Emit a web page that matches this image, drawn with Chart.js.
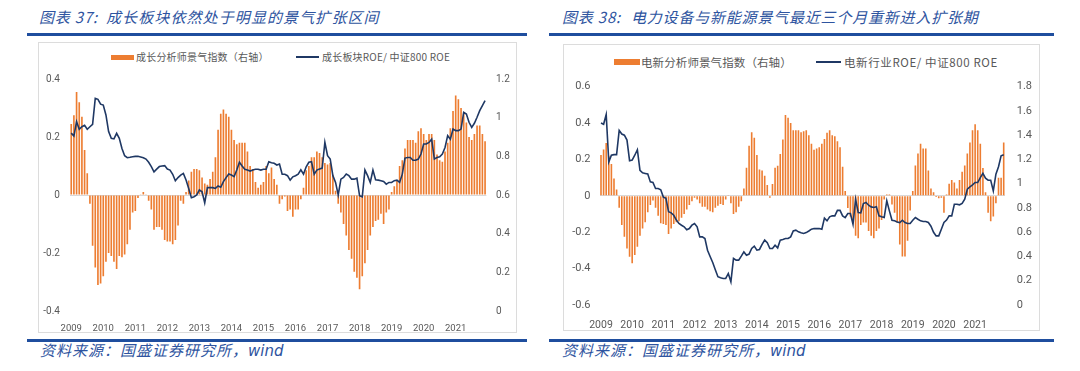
<!DOCTYPE html>
<html><head><meta charset="utf-8">
<script src="https://cdn.jsdelivr.net/npm/chart.js@4.4.1/dist/chart.umd.min.js"></script>
<style>
html,body{margin:0;padding:0;background:#fff}
body{width:1080px;height:371px;position:relative;overflow:hidden;font-family:"Noto Sans CJK SC",sans-serif}
.title{position:absolute;top:7px;font-size:15px;font-style:italic;color:#2E54A0;letter-spacing:0.8px;white-space:nowrap;line-height:20px}
.rule{position:absolute;height:3px;background:#1F4E9E}
.frame{position:absolute;border:1px solid #dcdcdc;box-sizing:border-box}
.src{position:absolute;top:340px;font-size:15px;font-style:italic;color:#2E54A0;letter-spacing:1px;white-space:nowrap;line-height:20px}
.src b{font-family:"DejaVu Sans",sans-serif;font-weight:normal;letter-spacing:0;font-size:15px}
.lg{position:absolute;white-space:nowrap;color:#595959}
.box{position:absolute;background:#ED7D31}
.ln{position:absolute;background:#1F3864;height:2px}
canvas{position:absolute}
</style></head>
<body>
<div class="title" style="left:39px">图表 37:</div>
<div class="title" style="left:106px;letter-spacing:1.1px">成长板块依然处于明显的景气扩张区间</div>
<div class="title" style="left:562px">图表 38:</div>
<div class="title" style="left:631px">电力设备与新能源景气最近三个月重新进入扩张期</div>
<div class="rule" style="left:27px;width:500px;top:33px"></div>
<div class="rule" style="left:549px;width:505px;top:33px"></div>
<div class="rule" style="left:27px;width:500px;top:339px"></div>
<div class="rule" style="left:549px;width:505px;top:339px"></div>
<div class="frame" style="left:38px;top:42px;width:479px;height:291px"></div>
<div class="frame" style="left:563px;top:44px;width:477px;height:287px"></div>

<div class="box" style="left:111px;top:55px;width:23px;height:5px"></div>
<div class="lg" style="left:136px;top:49px;font-size:10px;line-height:16px;letter-spacing:0.2px">成长分析师景气指数（右轴）</div>
<div class="ln" style="left:296px;top:56px;width:23px"></div>
<div class="lg" style="left:322px;top:49px;font-size:10px;line-height:16px;letter-spacing:0.2px">成长板块ROE/ 中证800 ROE</div>

<div class="box" style="left:614px;top:59px;width:26px;height:6px"></div>
<div class="lg" style="left:641px;top:53px;font-size:11.5px;line-height:18px;letter-spacing:0.1px">电新分析师景气指数（右轴）</div>
<div class="ln" style="left:816px;top:61px;width:25px"></div>
<div class="lg" style="left:844px;top:53px;font-size:11.5px;line-height:18px;letter-spacing:0.6px">电新行业ROE/ 中证800 ROE</div>

<div class="src" style="left:40px">资料来源：国盛证券研究所，<b>wind</b></div>
<div class="src" style="left:562px">资料来源：国盛证券研究所，<b>wind</b></div>

<canvas id="c1" width="477" height="289" style="left:39px;top:43px;width:477px;height:289px"></canvas>
<canvas id="c2" width="475" height="285" style="left:564px;top:45px;width:475px;height:285px"></canvas>

<script>
// ---------- data ----------
const years = [2009,2010,2011,2012,2013,2014,2015,2016,2017,2018,2019,2020,2021];

// Chart 37: growth analyst sentiment index (bars) and growth ROE / CSI800 ROE (line)
const growthIndex = [
  0.245, 0.275, 0.355, 0.32, 0.27, 0.155, 0.075, -0.03, -0.175, -0.25, -0.31, -0.305,
  -0.28, -0.23, -0.20, -0.21, -0.23, -0.255, -0.21, -0.215, -0.205, -0.17, -0.12, -0.06,
  -0.055, -0.01, 0.003, 0.01, 0.003, -0.02, -0.05, -0.12, -0.11, -0.11, -0.12, -0.155,
  -0.16, -0.16, -0.17, -0.155, -0.105, -0.02, -0.03, 0.01, 0.05, 0.08, 0.09, 0.09,
  0.085, 0.06, 0.04, 0.035, 0.055, 0.08, 0.13, 0.225, 0.28, 0.295, 0.28, 0.27,
  0.225, 0.19, 0.175, 0.18, 0.18, 0.18, 0.15, 0.10, 0.09, 0.045, 0.025, 0.035,
  0.045, 0.10, 0.075, 0.095, 0.055, 0.035, -0.03, -0.015, -0.005, -0.055, -0.05, -0.075,
  -0.05, -0.05, -0.015, 0.025, 0.085, 0.10, 0.13, 0.13, 0.15, 0.145, 0.13, 0.11,
  0.105, 0.11, 0.07, 0.015, -0.03, -0.06, -0.10, -0.14, -0.19, -0.22, -0.265, -0.285,
  -0.325, -0.28, -0.235, -0.19, -0.14, -0.11, -0.09, -0.085, -0.065, -0.10, -0.06, -0.05,
  0.01, 0.03, 0.05, 0.10, 0.12, 0.16, 0.19, 0.19, 0.19, 0.18, 0.22, 0.23,
  0.21, 0.19, 0.21, 0.21, 0.19, 0.14, 0.12, 0.115, 0.15, 0.18, 0.23, 0.29,
  0.343, 0.33, 0.30, 0.28, 0.25, 0.20, 0.19, 0.21, 0.24, 0.24, 0.21, 0.185
];
const growthROE = [
  0.92, 0.905, 0.98, 0.94, 0.953, 0.96, 0.94, 0.953, 0.965, 1.10, 1.095, 1.07,
  1.065, 1.014, 0.928, 0.893, 0.89, 0.919, 0.893, 0.841, 0.803, 0.793, 0.795, 0.798,
  0.80, 0.80, 0.797, 0.793, 0.786, 0.769, 0.747, 0.72, 0.734, 0.747, 0.75, 0.752,
  0.734, 0.729, 0.707, 0.674, 0.69, 0.703, 0.712, 0.678, 0.634, 0.586, 0.591, 0.60,
  0.626, 0.617, 0.56, 0.638, 0.638, 0.638, 0.634, 0.647, 0.64, 0.669, 0.69, 0.709,
  0.703, 0.695, 0.729, 0.769, 0.75, 0.733, 0.729, 0.724, 0.729, 0.733, 0.733, 0.729,
  0.733, 0.733, 0.772, 0.767, 0.764, 0.755, 0.76, 0.707, 0.707, 0.70, 0.677, 0.694,
  0.70, 0.708, 0.73, 0.708, 0.746, 0.769, 0.772, 0.708, 0.729, 0.734, 0.739, 0.872,
  0.803, 0.786, 0.70, 0.665, 0.60, 0.682, 0.691, 0.708, 0.70, 0.682, 0.682, 0.687,
  0.596, 0.59, 0.729, 0.70, 0.665, 0.729, 0.679, 0.677, 0.674, 0.67, 0.656, 0.665,
  0.665, 0.674, 0.677, 0.665, 0.708, 0.791, 0.794, 0.794, 0.78, 0.78, 0.786, 0.812,
  0.864, 0.864, 0.872, 0.889, 0.786, 0.794, 0.798, 0.812, 0.846, 0.907, 0.889, 0.941,
  0.933, 0.933, 0.941, 1.028, 1.019, 0.976, 0.95, 0.971, 1.002, 1.036, 1.062, 1.088
];

// Chart 38: power equipment & new energy analyst sentiment index (bars) and ROE ratio (line)
const elecIndex = [
  0.225, 0.255, 0.29, 0.22, 0.175, 0.095, 0.035, -0.065, -0.16, -0.225, -0.29, -0.335,
  -0.37, -0.325, -0.28, -0.22, -0.18, -0.145, -0.09, -0.05, -0.025, -0.065, -0.11, -0.15,
  -0.155, -0.16, -0.21, -0.18, -0.155, -0.145, -0.14, -0.12, -0.10, -0.075, -0.05, -0.03,
  -0.01, -0.02, -0.04, -0.06, -0.06, -0.075, -0.085, -0.09, -0.065, -0.055, -0.045, -0.05,
  -0.02, 0.005, -0.04, -0.10, -0.09, -0.06, -0.03, 0.04, 0.155, 0.275, 0.35, 0.32,
  0.225, 0.145, 0.14, 0.11, 0.06, -0.01, 0.065, 0.155, 0.165, 0.23, 0.31, 0.445,
  0.43, 0.40, 0.36, 0.36, 0.36, 0.35, 0.355, 0.36, 0.333, 0.287, 0.253, 0.26,
  0.267, 0.287, 0.313, 0.347, 0.36, 0.333, 0.327, 0.30, 0.267, 0.16, 0.027, -0.067,
  -0.113, -0.147, -0.22, -0.233, -0.16, -0.147, -0.147, -0.193, -0.22, -0.233, -0.193, -0.18,
  -0.133, -0.02, 0.007, 0.007, -0.047, -0.093, -0.147, -0.267, -0.333, -0.333, -0.247, -0.08,
  0.027, 0.167, 0.233, 0.287, 0.26, 0.26, 0.14, 0.04, 0.02, -0.007, -0.013, -0.01,
  -0.093, 0.007, 0.067, 0.087, 0.073, 0.04, 0.087, 0.133, 0.167, 0.233, 0.293, 0.36,
  0.393, 0.36, 0.287, 0.153, 0.02, -0.093, -0.14, -0.113, -0.04, 0.10, 0.10, 0.293
];
const elecROE = [
  1.50, 1.49, 1.57, 1.18, 1.235, 1.24, 1.24, 1.44, 1.41, 1.40, 1.36, 1.19,
  1.195, 1.235, 1.28, 1.11, 1.09, 1.085, 1.08, 1.015, 1.01, 0.96, 0.96, 0.95,
  0.89, 0.88, 0.77, 0.76, 0.74, 0.70, 0.672, 0.658, 0.645, 0.62, 0.63, 0.658,
  0.672, 0.645, 0.562, 0.562, 0.548, 0.452, 0.40, 0.35, 0.29, 0.233, 0.224, 0.219,
  0.219, 0.26, 0.191, 0.384, 0.37, 0.37, 0.403, 0.438, 0.411, 0.42, 0.466, 0.485,
  0.452, 0.458, 0.50, 0.535, 0.513, 0.466, 0.466, 0.493, 0.471, 0.535, 0.54, 0.548,
  0.548, 0.562, 0.61, 0.617, 0.603, 0.595, 0.59, 0.597, 0.61, 0.625, 0.63, 0.63,
  0.63, 0.625, 0.716, 0.694, 0.727, 0.735, 0.735, 0.78, 0.78, 0.735, 0.721, 0.754,
  0.754, 0.666, 0.873, 0.762, 0.76, 0.837, 0.845, 0.823, 0.809, 0.804, 0.81, 0.735,
  0.727, 0.721, 0.859, 0.776, 0.699, 0.694, 0.685, 0.68, 0.699, 0.68, 0.672, 0.672,
  0.699, 0.721, 0.707, 0.694, 0.688, 0.688, 0.68, 0.65, 0.60, 0.57, 0.57, 0.625,
  0.68, 0.70, 0.735, 0.735, 0.831, 0.831, 0.826, 0.837, 0.873, 0.955, 0.974, 0.991,
  1.01, 1.01, 1.05, 1.085, 1.046, 1.029, 1.029, 0.941, 1.079, 1.14, 1.23, 1.239
];

// categories: one per month
const months = [];
years.forEach(y => { for (let m = 1; m <= 12; m++) months.push(y + '-' + String(m).padStart(2, '0')); });

const BAR = '#ED7D31', LINE = '#1F3864', TXT = '#595959';

function makeChart(id, cfg) {
  return new Chart(document.getElementById(id), {
    data: {
      labels: months,
      datasets: [
        { type: 'line', label: cfg.lineName, data: cfg.line, yAxisID: 'y1', borderColor: LINE,
          borderWidth: 1.6, pointRadius: 0, tension: 0, order: 0 },
        { type: 'bar', label: cfg.barName, data: cfg.bars, yAxisID: 'y', backgroundColor: BAR,
          barPercentage: 0.62, categoryPercentage: 1.0, order: 1 }
      ]
    },
    options: {
      responsive: false, animation: false, devicePixelRatio: 1,
      layout: { padding: { top: cfg.top, left: 0, right: 0, bottom: 0 } },
      plugins: { legend: { display: false }, tooltip: { enabled: false } },
      scales: {
        x: {
          grid: { display: false }, border: { display: false },
          afterFit: s => { s.height = cfg.xH; },
          ticks: {
            autoSkip: false, maxRotation: 0, minRotation: 0, padding: cfg.xPad, color: TXT,
            font: { family: 'Roboto', size: cfg.fs },
            callback: function (v) { const l = this.getLabelForValue(v); return l.endsWith('-01') ? l.slice(0, 4) : ''; }
          }
        },
        y: {
          position: 'left', min: cfg.yMin, max: cfg.yMax,
          afterFit: s => { s.width = cfg.yW; },
          border: { display: false },
          grid: { drawTicks: false, color: c => (c.tick && c.tick.value === 0) ? '#d9d9d9' : 'rgba(0,0,0,0)' },
          ticks: { stepSize: 0.2, padding: cfg.yPad, color: TXT, font: { family: 'Roboto', size: cfg.fsY },
                   callback: v => String(+v.toFixed(1)) }
        },
        y1: {
          position: 'right', min: 0, max: cfg.y1Max,
          afterFit: s => { s.width = cfg.y1W; },
          border: { display: false }, grid: { display: false, drawTicks: false },
          ticks: { stepSize: 0.2, padding: cfg.y1Pad, color: TXT, font: { family: 'Roboto', size: cfg.fsY },
                   callback: v => String(+v.toFixed(1)) }
        }
      }
    }
  });
}

makeChart('c1', {
  bars: growthIndex, line: growthROE,
  barName: '成长分析师景气指数（右轴）', lineName: '成长板块ROE/ 中证800 ROE',
  top: 36, xH: 21, yW: 30.9, y1W: 29.6, yPad: 10, y1Pad: 9.6, xPad: 4,
  yMin: -0.4, yMax: 0.4, y1Max: 1.2, fs: 9.5, fsY: 10
});
makeChart('c2', {
  bars: elecIndex, line: elecROE,
  barName: '电新分析师景气指数（右轴）', lineName: '电新行业ROE/ 中证800 ROE',
  top: 41.7, xH: 25, yW: 35.7, y1W: 34, yPad: 9.2, y1Pad: 11.7, xPad: 5.7,
  yMin: -0.6, yMax: 0.6, y1Max: 1.8, fs: 10.5, fsY: 11
});
</script>
</body></html>
